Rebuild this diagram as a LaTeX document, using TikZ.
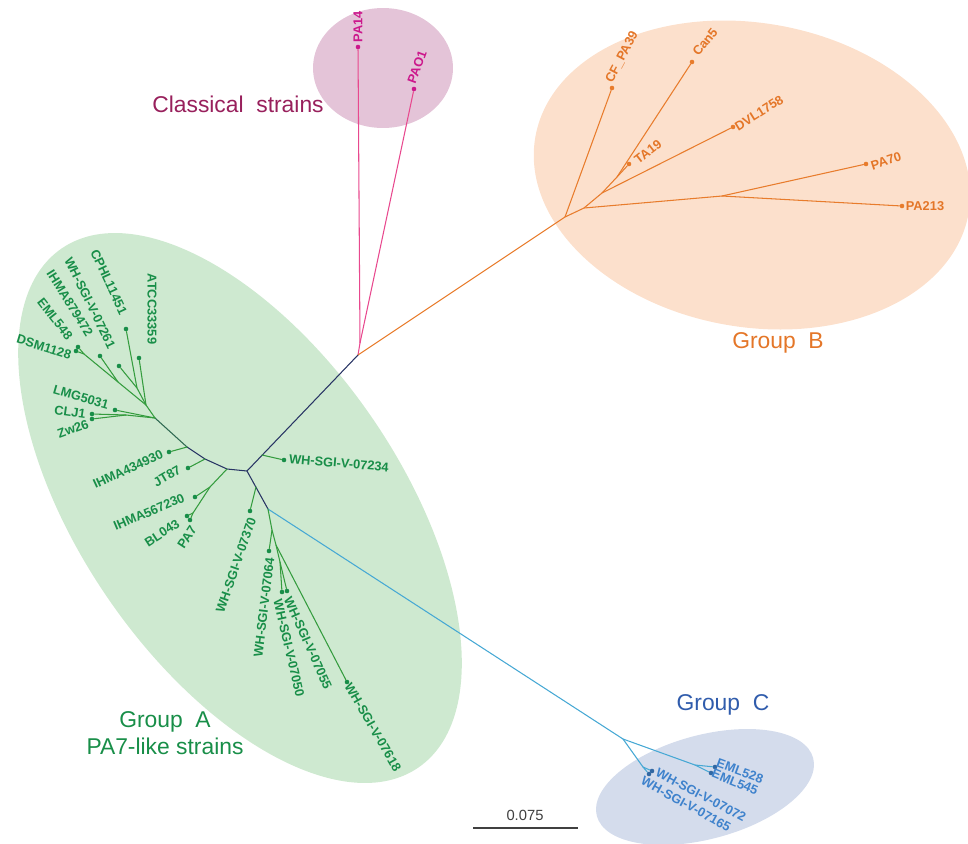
\documentclass[tikz,border=0pt]{standalone}
\usepackage{fontspec}
\setmainfont{Liberation Sans}
\usepackage{xcolor}
\usepackage{tikz}

\definecolor{pinkfill}{RGB}{228,196,216}
\definecolor{orfill}{RGB}{252,224,204}
\definecolor{grfill}{RGB}{206,233,208}
\definecolor{blfill}{RGB}{212,220,236}
\definecolor{pinkline}{RGB}{232,72,142}
\definecolor{pinktxt}{RGB}{204,24,140}
\definecolor{classtxt}{RGB}{152,32,92}
\definecolor{orline}{RGB}{232,124,44}
\definecolor{ortxt}{RGB}{228,118,40}
\definecolor{grline}{RGB}{52,156,62}
\definecolor{grtxt}{RGB}{24,142,72}
\definecolor{navy}{RGB}{40,52,100}
\definecolor{blline}{RGB}{70,168,212}
\definecolor{bltxt}{RGB}{62,130,204}
\definecolor{grouptxtC}{RGB}{48,92,172}

\begin{document}
\begin{tikzpicture}[
    x=0.02cm, y=-0.02cm,
    branch/.style={line width=0.6pt, line cap=round},
    tipdot/.style={circle, fill, inner sep=0pt, minimum size=2.6pt},
    leaf/.style={font=\fontsize{7.3}{8}\selectfont\bfseries, inner sep=0pt},
    grouplbl/.style={font=\fontsize{13}{15.5}\selectfont, align=center, inner sep=0pt}
]
\useasboundingbox (0,0) rectangle (968,843);

% === Group areas ===
\fill[pinkfill] (383,68) ellipse [x radius=1.4cm, y radius=1.2cm];
\fill[orfill, rotate around={-10:(752,175)}] (752,175) ellipse [x radius=4.4cm, y radius=3.04cm];
\fill[grfill, rotate around={-55.5:(240,508)}] (240,508) ellipse [x radius=6.3cm, y radius=3.2cm];
\fill[blfill, rotate around={15:(705,787)}] (705,787) ellipse [x radius=2.24cm, y radius=1.04cm];

% === Inner joints ===
\coordinate (hub) at (358,355);
\coordinate (pk) at (360,343);
\coordinate (or) at (565,217);
\coordinate (orJ1) at (584,208);
\coordinate (orJ2) at (722,196);
\coordinate (orJ3) at (602,193);
\coordinate (orJ4) at (617,177);
\coordinate (jA) at (247,471);
\coordinate (j34) at (262,455);
\coordinate (j70) at (256,487);
\coordinate (jB) at (268,509);
\coordinate (jG1) at (272,530);
\coordinate (jG2) at (276,545);
\coordinate (jG3) at (280,562);
\coordinate (jL) at (227,469);
\coordinate (jP) at (210,487);
\coordinate (jP2) at (193,513);
\coordinate (jJT) at (205,459);
\coordinate (jIH) at (187,447);
\coordinate (jT) at (155,418);
\coordinate (jCZ) at (126,415);
\coordinate (jA1) at (146,405);
\coordinate (jC) at (137,388);
\coordinate (jA2) at (118,382);
\coordinate (jD) at (84,354);
\coordinate (bC) at (623,739);
\coordinate (bE) at (695,765);
\coordinate (bW) at (643,767);

% === Tips ===
\node[tipdot, pinktxt] (t-pa14) at (358,47) {};
\node[tipdot, pinktxt] (t-pao1) at (414,89) {};
\node[tipdot, orline] (t-cfpa39) at (612,88) {};
\node[tipdot, orline] (t-can5) at (692,62) {};
\node[tipdot, orline] (t-dvl) at (733,127) {};
\node[tipdot, orline] (t-ta19) at (629,164) {};
\node[tipdot, orline] (t-pa70) at (866,164) {};
\node[tipdot, orline] (t-pa213) at (902,206) {};
\node[tipdot, grtxt] (t-atcc) at (139,358) {};
\node[tipdot, grtxt] (t-cphl) at (126,329) {};
\node[tipdot, grtxt] (t-wh261) at (119,366) {};
\node[tipdot, grtxt] (t-ihma879) at (100,356) {};
\node[tipdot, grtxt] (t-eml548) at (78,347) {};
\node[tipdot, grtxt] (t-dsm) at (76,351) {};
\node[tipdot, grtxt] (t-lmg) at (115,410) {};
\node[tipdot, grtxt] (t-clj1) at (92,414) {};
\node[tipdot, grtxt] (t-zw26) at (92,419) {};
\node[tipdot, grtxt] (t-ihma434) at (169,452) {};
\node[tipdot, grtxt] (t-jt87) at (188,468) {};
\node[tipdot, grtxt] (t-ihma567) at (195,497) {};
\node[tipdot, grtxt] (t-bl043) at (187,516) {};
\node[tipdot, grtxt] (t-pa7) at (190,520) {};
\node[tipdot, grtxt] (t-wh234) at (284,460) {};
\node[tipdot, grtxt] (t-wh370) at (250,511) {};
\node[tipdot, grtxt] (t-wh064) at (269,551) {};
\node[tipdot, grtxt] (t-wh050) at (282,592) {};
\node[tipdot, grtxt] (t-wh055) at (287,591) {};
\node[tipdot, grtxt] (t-wh618) at (347,682) {};
\node[tipdot, bltxt!80!black] (t-eml528) at (715,767) {};
\node[tipdot, bltxt!80!black] (t-eml545) at (711,773) {};
\node[tipdot, bltxt!80!black] (t-w072) at (652,771) {};
\node[tipdot, bltxt!80!black] (t-w165) at (649,774) {};

% === Branches ===
\draw[branch, pinkline] (hub) -- (pk) -- (t-pa14);
\draw[branch, pinkline] (pk) -- (t-pao1);
\draw[branch, orline] (hub) -- (or) -- (t-cfpa39);
\draw[branch, orline] (or) -- (orJ1) -- (orJ2) -- (t-pa70);
\draw[branch, orline] (orJ2) -- (t-pa213);
\draw[branch, orline] (orJ1) -- (orJ3) -- (t-dvl);
\draw[branch, orline] (orJ3) -- (orJ4) -- (t-ta19);
\draw[branch, orline] (orJ4) -- (t-can5);
\draw[branch, navy] (hub) -- (jA) -- (jB);
\draw[branch, navy] (jA) -- (jL) -- (jJT) -- (jIH);
\draw[branch, navy!50!grline] (jIH) -- (jT);
\draw[branch, blline] (jB) -- (bC) -- (bE) -- (t-eml528);
\draw[branch, blline] (bE) -- (t-eml545);
\draw[branch, blline] (bC) -- (bW) -- (t-w072);
\draw[branch, blline] (bW) -- (t-w165);
\draw[branch, grline] (j34) -- (t-wh234);
\draw[branch, grline] (j70) -- (t-wh370);
\draw[branch, grline] (jB) -- (jG1) -- (t-wh064);
\draw[branch, grline] (jG1) -- (jG2) -- (t-wh618);
\draw[branch, grline] (jG2) -- (jG3) -- (t-wh050);
\draw[branch, grline] (jG3) -- (t-wh055);
\draw[branch, grline] (jL) -- (jP) -- (t-ihma567);
\draw[branch, grline] (jP) -- (jP2) -- (t-bl043);
\draw[branch, grline] (jP2) -- (t-pa7);
\draw[branch, grline] (jJT) -- (t-jt87);
\draw[branch, grline] (jIH) -- (t-ihma434);
\draw[branch, grline] (jT) -- (t-lmg);
\draw[branch, grline] (jT) -- (jCZ) -- (t-clj1);
\draw[branch, grline] (jCZ) -- (t-zw26);
\draw[branch, grline] (jT) -- (jA1) -- (t-atcc);
\draw[branch, grline] (jA1) -- (jC) -- (t-cphl);
\draw[branch, grline] (jC) -- (t-wh261);
\draw[branch, grline] (jA1) -- (jA2) -- (t-ihma879);
\draw[branch, grline] (jA2) -- (jD) -- (t-dsm);
\draw[branch, grline] (jD) -- (t-eml548);

% === Leaf labels ===
\node[leaf, pinktxt, rotate=90] (l-pa14) at (358,27) {PA14};
\node[leaf, pinktxt, rotate=70] (l-pao1) at (417,67) {PAO1};

\node[leaf, ortxt, rotate=62] (l-cfpa39) at (622,57) {CF\_PA39};
\node[leaf, ortxt, rotate=51] (l-can5) at (705,42) {Can5};
\node[leaf, ortxt, rotate=32] (l-dvl) at (759,113) {DVL1758};
\node[leaf, ortxt, rotate=38] (l-ta19) at (648,152) {TA19};
\node[leaf, ortxt, rotate=18] (l-pa70) at (886,161) {PA70};
\node[leaf, ortxt] (l-pa213) at (925,206) {PA213};

\node[leaf, grtxt, rotate=-90] (l-atcc) at (152,309) {ATCC33359};
\node[leaf, grtxt, rotate=-65] (l-cphl) at (109,282) {CPHL11451};
\node[leaf, grtxt, rotate=-64] (l-wh261) at (90,303) {WH-SGI-V-07261};
\node[leaf, grtxt, rotate=-58] (l-ihma879) at (70,303) {IHMA879472};
\node[leaf, grtxt, rotate=-52] (l-eml548) at (55,319) {EML548};
\node[leaf, grtxt, rotate=-17] (l-dsm) at (44,347) {DSM1128};
\node[leaf, grtxt, rotate=-16] (l-lmg) at (81,397) {LMG5031};
\node[leaf, grtxt, rotate=-8] (l-clj1) at (70,412) {CLJ1};
\node[leaf, grtxt, rotate=20] (l-zw26) at (73,429) {Zw26};
\node[leaf, grtxt, rotate=25] (l-ihma434) at (128,469) {IHMA434930};
\node[leaf, grtxt, rotate=30] (l-jt87) at (167,476) {JT87};
\node[leaf, grtxt, rotate=23] (l-ihma567) at (149,512) {IHMA567230};
\node[leaf, grtxt, rotate=33] (l-bl043) at (162,533) {BL043};
\node[leaf, grtxt, rotate=57] (l-pa7) at (187,537) {PA7};
\node[leaf, grtxt, rotate=-5] (l-wh234) at (339,463) {WH-SGI-V-07234};
\node[leaf, grtxt, rotate=71] (l-wh370) at (236,565) {WH-SGI-V-07370};
\node[leaf, grtxt, rotate=83] (l-wh064) at (264,607) {WH-SGI-V-07064};
\node[leaf, grtxt, rotate=-77] (l-wh050) at (289,648) {WH-SGI-V-07050};
\node[leaf, grtxt, rotate=-66] (l-wh055) at (308,643) {WH-SGI-V-07055};
\node[leaf, grtxt, rotate=-60] (l-wh618) at (373,727) {WH-SGI-V-07618};

\node[leaf, bltxt, rotate=-20] (l-eml528) at (740,771) {EML528};
\node[leaf, bltxt, rotate=-22] (l-eml545) at (735,782) {EML545};
\node[leaf, bltxt, rotate=-28] (l-w072) at (701,795) {WH-SGI-V-07072};
\node[leaf, bltxt, rotate=-29] (l-w165) at (686,804) {WH-SGI-V-07165};

% === Group names ===
\node[grouplbl, classtxt] (g-class) at (238,104) {Classical\ \ strains};
\node[grouplbl, ortxt] (g-b) at (778,343) {Group\ \ B};
\node[grouplbl, grtxt] (g-a) at (165,733) {Group\ \ A\\PA7-like strains};
\node[grouplbl, grouptxtC] (g-c) at (723,705) {Group\ \ C};

% === Scale bar ===
\coordinate (sbL) at (473,828);
\coordinate (sbR) at (578,828);
\draw[line width=1.1pt, black!75] (sbL) -- (sbR);
\node[font=\fontsize{8.4}{10}\selectfont, black!75, inner sep=0pt] (sb) at (525,815) {0.075};

\end{tikzpicture}
\end{document}
